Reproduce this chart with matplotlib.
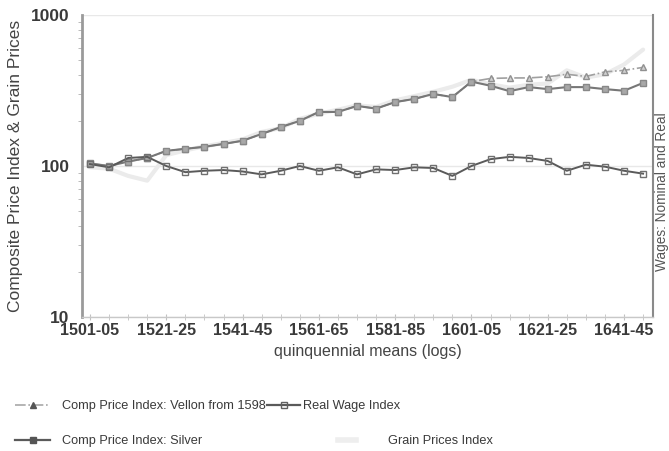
import matplotlib
matplotlib.use("Agg")
import matplotlib.pyplot as plt
from matplotlib.lines import Line2D
from matplotlib.ticker import FixedLocator, NullFormatter

plt.rcParams['font.family'] = ['Liberation Sans', 'DejaVu Sans']

# quinquennia 1501-05 .. 1646-50
periods = [f"{y}-{str(y + 4)[2:]}" for y in range(1501, 1651, 5)]

real_wage = [103, 98, 113, 115, 100, 91, 93, 94, 92, 88,
             93, 100, 93, 98, 88, 95, 94, 98, 97, 86,
             100, 111, 115, 113, 108, 93, 102, 99, 93, 89]

cpi_silver = [104, 100, 107, 113, 126, 130, 134, 140, 147, 163,
              181, 199, 228, 228, 250, 240, 265, 278, 300, 286,
              362, 340, 313, 333, 323, 333, 333, 323, 315, 355]

cpi_vellon = [104, 100, 107, 113, 126, 130, 134, 140, 147, 163,
              181, 199, 228, 228, 250, 240, 265, 278, 300, 286,
              362, 380, 383, 383, 390, 405, 392, 420, 430, 450]

grain = [98, 96, 86, 80, 118, 127, 135, 142, 150, 168,
         178, 205, 222, 236, 252, 246, 272, 290, 310, 335,
         372, 348, 330, 345, 352, 430, 385, 405, 470, 590]

label_idx = list(range(0, 30, 4))

TXT = '#3a3a3a'

fig = plt.figure(figsize=(6.69, 4.51), dpi=100)
ax = fig.add_axes([82 / 669, 1 - 317 / 451, 571 / 669, 302 / 451])
x = list(range(len(periods)))

ax.plot(x, grain, color='#ebebeb', lw=3, solid_capstyle='round', zorder=2)
ax.plot(x, cpi_vellon, color='#a0a0a0', lw=1.2, ls='-.', marker='^', ms=4,
        mfc='#d0d0d0', mec='#909090', zorder=3)
ax.plot(x, cpi_silver, color='#777777', lw=1.5, marker='s', ms=4,
        mfc='#a8a8a8', mec='#888888', zorder=4)
ax.plot(x, real_wage, color='#5a5a5a', lw=1.4, marker='s', ms=5,
        mfc='none', mec='#707070', mew=1, zorder=5)

ax.set_yscale('log')
ax.set_ylim(10, 1000)
ax.set_xlim(-0.42, 29.52)
ax.set_yticks([10, 100, 1000])
ax.set_yticklabels(['10', '100', '1000'])
ax.yaxis.set_minor_formatter(NullFormatter())
ax.tick_params(axis='y', which='major', length=0, pad=9, labelsize=12.5,
               labelcolor=TXT)
ax.tick_params(axis='y', which='minor', length=3, color='#b0b0b0', direction='out')
for lab in ax.get_yticklabels():
    lab.set_fontweight('bold')

ax.set_xticks(label_idx)
ax.set_xticklabels([periods[i] for i in label_idx])
ax.xaxis.set_minor_locator(FixedLocator(x))
ax.tick_params(axis='x', which='both', length=5, direction='inout',
               color='#c0c0c0', pad=2, labelsize=11.5, labelcolor=TXT)
for lab in ax.get_xticklabels():
    lab.set_fontweight('bold')

ax.grid(axis='y', which='major', color='#e8e8e8', lw=1)
ax.spines['left'].set_color('#9a9a9a')
ax.spines['left'].set_linewidth(2)
ax.spines['right'].set_color('#8a8a8a')
ax.spines['right'].set_linewidth(1.5)
ax.spines['top'].set_visible(False)
ax.spines['bottom'].set_color('#c8c8c8')
ax.spines['bottom'].set_linewidth(1)

ax.set_ylabel('Composite Price Index & Grain Prices', fontsize=12.5,
              color='#444444', labelpad=6)
ax.set_xlabel('quinquennial means (logs)', fontsize=11.5, color='#444444',
              labelpad=4)
fig.text(662 / 669, 1 - 192 / 451, 'Wages: Nominal and Real', rotation=90,
         ha='center', va='center', fontsize=9.8, color='#555555')

# legend, laid out like the original (entries flow in two rows)
LEG_FS = 9.2
px = LEG_FS * 100 / 72  # font size in pixels
entries = [
    (Line2D([], [], color='#a8a8a8', lw=1.2, ls='-.', marker='^', ms=4,
            mfc='#555555', mec='#555555'),
     'Comp Price Index: Vellon from 1598', 15, 50, 406),
    (Line2D([], [], color='#5a5a5a', lw=1.6, marker='s', ms=5, mfc='none',
            mec='#606060'),
     'Real Wage Index', 267, 300, 406),
    (Line2D([], [], color='#5a5a5a', lw=1.6, marker='s', ms=4, mfc='#555555',
            mec='#555555'),
     'Comp Price Index: Silver', 15, 50, 441),
    (Line2D([], [], color='#eeeeee', lw=4),
     'Grain Prices Index', 338, 356, 441),
]
for handle, text, x0, x1, ly in entries:
    text_x = x1 + 12
    if text == 'Real Wage Index':
        text_x = x1 + 3
    if text == 'Grain Prices Index':
        text_x = 388
    leg = fig.legend([handle], [text], loc='center left',
                     bbox_to_anchor=(x0 / 669, 1 - ly / 451),
                     frameon=False, handlelength=(x1 - x0) / px,
                     handletextpad=(text_x - x1) / px, borderaxespad=0,
                     borderpad=0, prop={'size': LEG_FS})
    for t in leg.get_texts():
        t.set_color(TXT)

fig.savefig('out.png', dpi=100)
